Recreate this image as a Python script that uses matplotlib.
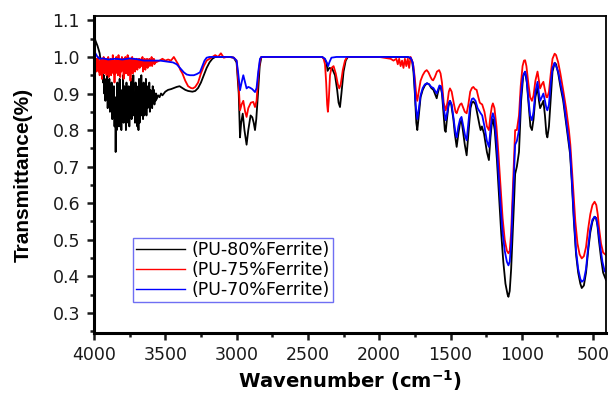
#!/usr/bin/env python3
"""FTIR transmittance spectra of PU / ferrite composites."""

import matplotlib
matplotlib.use("Agg")
import matplotlib.pyplot as plt
from matplotlib.ticker import MultipleLocator

plt.rcParams["font.family"] = ["DejaVu Sans"]
plt.rcParams["mathtext.fontset"] = "dejavusans"

# ── PU-80% ferrite ──
# O-H / N-H band is very noisy, sampled every 4 cm-1
wn_80_oh = list(range(3940, 3556, -4))
t_80_oh = [0.96, 0.93, 0.95, 0.90, 0.94, 0.88, 0.93, 0.91, 0.95, 0.86, 0.92, 0.89,
           0.94, 0.85, 0.91, 0.88, 0.93, 0.83, 0.90, 0.86, 0.92, 0.81, 0.89, 0.74,
           0.88, 0.80, 0.93, 0.83, 0.90, 0.81, 0.94, 0.84, 0.91, 0.80, 0.89, 0.83,
           0.95, 0.82, 0.92, 0.85, 0.90, 0.80, 0.93, 0.84, 0.88, 0.82, 0.92, 0.81,
           0.89, 0.85, 0.94, 0.83, 0.91, 0.86, 0.95, 0.84, 0.90, 0.82, 0.93, 0.85,
           0.92, 0.81, 0.90, 0.80, 0.94, 0.82, 0.91, 0.86, 0.95, 0.84, 0.90, 0.83,
           0.93, 0.84, 0.91, 0.87, 0.94, 0.84, 0.92, 0.86, 0.90, 0.88, 0.93, 0.85,
           0.91, 0.87, 0.90, 0.86, 0.92, 0.88, 0.91, 0.87, 0.90, 0.88, 0.90, 0.885]
wn_80 = [4000, 3990, 3975, 3960, 3950] + wn_80_oh + [
         3550, 3540, 3530, 3520, 3500, 3480, 3460, 3440, 3420, 3400, 3380, 3360,
         3340, 3310, 3290, 3270, 3250, 3230, 3210, 3190, 3170, 3150, 3100, 3050,
         3020, 3000, 2985, 2976, 2968, 2957, 2945, 2930, 2918, 2902, 2890, 2880,
         2871, 2862, 2850, 2838, 2826, 2600, 2400, 2385, 2370, 2362, 2350, 2330,
         2310, 2295, 2285, 2275, 2265, 2250, 2235, 2220, 2000, 1800, 1790, 1770,
         1760, 1750, 1740, 1733, 1725, 1710, 1695, 1680, 1665, 1650, 1635, 1620,
         1605, 1597, 1590, 1580, 1570, 1560, 1550, 1540, 1534, 1525, 1515, 1504,
         1495, 1480, 1470, 1457, 1445, 1433, 1423, 1410, 1400, 1387, 1375, 1360,
         1350, 1340, 1325, 1310, 1295, 1289, 1280, 1265, 1245, 1231, 1220, 1210,
         1203, 1190, 1175, 1160, 1145, 1130, 1115, 1100, 1094, 1085, 1075, 1065,
         1055, 1047, 1035, 1020, 1005, 990, 977, 965, 950, 940, 929, 918,
         905, 890, 880, 872, 860, 849, 838, 828, 821, 810, 797, 785,
         770, 760, 745, 730, 710, 690, 670, 662, 650, 635, 620, 605,
         590, 580, 565, 550, 535, 520, 505, 490, 480, 470, 460, 445,
         430, 410]
t_80 = [1.06, 1.045, 1.03, 1.01, 0.98] + t_80_oh + [
        0.895, 0.89, 0.90, 0.895, 0.905, 0.91, 0.912, 0.915, 0.918, 0.92, 0.915, 0.91,
        0.907, 0.905, 0.907, 0.915, 0.93, 0.95, 0.97, 0.985, 0.995, 1.0, 1.0, 1.0,
        0.998, 0.985, 0.90, 0.78, 0.82, 0.845, 0.80, 0.76, 0.80, 0.84, 0.835, 0.82,
        0.80, 0.83, 0.90, 0.975, 1.0, 1.0, 1.0, 0.995, 0.985, 0.962, 0.97, 0.968,
        0.95, 0.91, 0.875, 0.863, 0.90, 0.96, 0.99, 1.0, 1.0, 1.0, 0.998, 0.99,
        0.96, 0.90, 0.82, 0.80, 0.83, 0.89, 0.91, 0.922, 0.928, 0.925, 0.915, 0.91,
        0.895, 0.887, 0.90, 0.915, 0.92, 0.90, 0.85, 0.80, 0.795, 0.83, 0.865, 0.88,
        0.87, 0.83, 0.79, 0.754, 0.79, 0.82, 0.827, 0.79, 0.76, 0.731, 0.79, 0.86,
        0.875, 0.878, 0.87, 0.84, 0.81, 0.80, 0.81, 0.79, 0.74, 0.718, 0.78, 0.82,
        0.83, 0.80, 0.72, 0.62, 0.52, 0.44, 0.38, 0.35, 0.344, 0.36, 0.42, 0.51,
        0.60, 0.68, 0.70, 0.74, 0.88, 0.95, 0.958, 0.93, 0.86, 0.81, 0.80, 0.83,
        0.89, 0.918, 0.88, 0.86, 0.87, 0.88, 0.84, 0.79, 0.78, 0.81, 0.89, 0.96,
        0.984, 0.98, 0.955, 0.92, 0.88, 0.82, 0.76, 0.735, 0.66, 0.55, 0.46, 0.41,
        0.38, 0.368, 0.375, 0.41, 0.47, 0.52, 0.55, 0.563, 0.56, 0.54, 0.50, 0.45,
        0.41, 0.39]

# ── PU-75% ferrite ──
wn_75_oh = list(range(3996, 3564, -4))
t_75_oh = [1.00, 0.97, 0.99, 0.96, 0.995, 0.975, 1.00, 0.96, 0.985, 0.95, 0.99, 0.965,
           0.995, 0.94, 0.99, 0.97, 1.00, 0.955, 0.985, 0.965, 0.995, 0.95, 0.99, 0.97,
           1.00, 0.945, 0.985, 0.96, 0.995, 0.95, 0.99, 0.965, 1.005, 0.955, 0.99, 0.93,
           0.985, 0.955, 1.00, 0.96, 0.99, 0.95, 1.005, 0.97, 0.995, 0.945, 0.99, 0.96,
           1.00, 0.965, 0.995, 0.94, 0.985, 0.96, 1.00, 0.955, 0.99, 0.97, 1.005, 0.95,
           0.99, 0.96, 0.995, 0.935, 0.985, 0.965, 1.00, 0.955, 0.99, 0.97, 0.995, 0.96,
           0.985, 0.97, 0.995, 0.965, 0.99, 0.975, 0.995, 0.97, 0.99, 0.98, 0.995, 0.975,
           1.00, 0.96, 0.99, 0.975, 0.995, 0.965, 0.99, 0.98, 0.995, 0.97, 0.99, 0.98,
           0.995, 0.975, 0.99, 0.985, 1.00, 0.975, 0.99, 0.985, 0.995, 0.98, 0.99, 0.985]
wn_75 = [4000] + wn_75_oh + [
         3540, 3520, 3500, 3480, 3460, 3440, 3425, 3410, 3395, 3380, 3360, 3340,
         3320, 3306, 3290, 3270, 3250, 3230, 3210, 3190, 3170, 3150, 3130, 3110,
         3090, 3070, 3050, 3020, 3000, 2985, 2976, 2965, 2953, 2940, 2930, 2918,
         2900, 2883, 2871, 2860, 2848, 2836, 2826, 2600, 2400, 2390, 2380, 2372,
         2365, 2360, 2354, 2345, 2335, 2320, 2305, 2290, 2280, 2270, 2255, 2240,
         2225, 2000, 1920, 1900, 1880, 1870, 1860, 1850, 1840, 1830, 1820, 1810,
         1800, 1790, 1780, 1770, 1760, 1750, 1740, 1733, 1725, 1710, 1695, 1680,
         1667, 1655, 1640, 1630, 1622, 1610, 1595, 1580, 1570, 1560, 1548, 1534,
         1522, 1512, 1504, 1492, 1478, 1465, 1457, 1445, 1433, 1423, 1410, 1400,
         1387, 1375, 1362, 1350, 1340, 1328, 1317, 1305, 1295, 1289, 1278, 1262,
         1245, 1231, 1220, 1210, 1203, 1192, 1178, 1165, 1150, 1135, 1120, 1105,
         1094, 1085, 1075, 1065, 1055, 1047, 1035, 1020, 1008, 995, 985, 977,
         968, 955, 942, 929, 918, 905, 890, 880, 872, 860, 849, 838,
         828, 821, 810, 797, 785, 770, 760, 745, 730, 710, 690, 670,
         660, 650, 640, 625, 610, 595, 580, 565, 550, 535, 520, 505,
         490, 478, 468, 458, 445, 430, 410]
t_75 = [0.98] + t_75_oh + [
        0.99, 0.995, 0.99, 0.993, 0.99, 1.0, 0.99, 0.98, 0.965, 0.955, 0.935, 0.92,
        0.915, 0.914, 0.918, 0.93, 0.955, 0.975, 0.99, 0.995, 1.0, 1.005, 1.0, 1.01,
        0.998, 1.0, 1.0, 0.998, 0.99, 0.92, 0.854, 0.87, 0.88, 0.85, 0.836, 0.86,
        0.875, 0.877, 0.863, 0.88, 0.95, 0.99, 1.0, 1.0, 1.0, 0.995, 0.98, 0.93,
        0.87, 0.85, 0.88, 0.95, 0.97, 0.975, 0.955, 0.925, 0.914, 0.925, 0.965, 0.99,
        1.0, 1.0, 0.995, 0.99, 0.995, 0.98, 0.995, 0.975, 0.99, 0.97, 0.995, 0.975,
        0.995, 0.97, 1.0, 0.99, 0.975, 0.94, 0.895, 0.88, 0.90, 0.935, 0.95, 0.96,
        0.964, 0.958, 0.945, 0.938, 0.936, 0.945, 0.96, 0.964, 0.955, 0.93, 0.875, 0.854,
        0.875, 0.905, 0.914, 0.905, 0.875, 0.85, 0.846, 0.86, 0.87, 0.873, 0.86, 0.85,
        0.846, 0.87, 0.905, 0.915, 0.918, 0.912, 0.91, 0.89, 0.875, 0.873, 0.87, 0.85,
        0.81, 0.80, 0.84, 0.865, 0.873, 0.86, 0.81, 0.74, 0.65, 0.56, 0.50, 0.47,
        0.463, 0.47, 0.52, 0.62, 0.72, 0.80, 0.80, 0.84, 0.92, 0.975, 0.99, 0.991,
        0.975, 0.93, 0.89, 0.88, 0.895, 0.935, 0.96, 0.935, 0.914, 0.925, 0.932, 0.91,
        0.89, 0.89, 0.905, 0.955, 0.995, 1.009, 1.005, 0.985, 0.955, 0.909, 0.86, 0.80,
        0.76, 0.70, 0.64, 0.55, 0.49, 0.46, 0.449, 0.455, 0.48, 0.53, 0.57, 0.595,
        0.604, 0.595, 0.57, 0.53, 0.49, 0.465, 0.458]

# ── PU-70% ferrite ──
wn_70 = [4000, 3990, 3975, 3960, 3937, 3900, 3850, 3800, 3750, 3700, 3650, 3600,
         3537, 3480, 3446, 3420, 3397, 3370, 3350, 3327, 3300, 3280, 3257, 3240,
         3225, 3210, 3190, 3100, 3040, 3020, 3000, 2990, 2976, 2965, 2953, 2940,
         2930, 2918, 2906, 2890, 2871, 2860, 2848, 2836, 2826, 2600, 2400, 2380,
         2365, 2358, 2350, 2335, 2300, 2000, 1800, 1780, 1765, 1755, 1745, 1733,
         1725, 1710, 1695, 1680, 1665, 1650, 1635, 1620, 1605, 1597, 1588, 1578,
         1568, 1558, 1548, 1534, 1522, 1512, 1504, 1492, 1478, 1465, 1457, 1445,
         1433, 1423, 1410, 1398, 1387, 1375, 1362, 1350, 1340, 1325, 1310, 1295,
         1289, 1278, 1262, 1245, 1231, 1220, 1210, 1203, 1192, 1178, 1165, 1150,
         1135, 1120, 1105, 1094, 1085, 1075, 1065, 1055, 1047, 1035, 1020, 1008,
         995, 985, 977, 968, 955, 942, 929, 918, 905, 890, 880, 872,
         860, 849, 838, 828, 821, 810, 797, 785, 770, 745, 730, 710,
         690, 670, 662, 650, 635, 620, 605, 590, 580, 565, 550, 535,
         520, 505, 490, 478, 465, 450, 435, 420, 410]
t_70 = [1.018, 1.01, 1.0, 0.995, 0.996, 0.993, 0.995, 0.993, 0.996, 0.994, 0.99, 0.99,
        0.99, 0.987, 0.985, 0.98, 0.97, 0.958, 0.952, 0.95, 0.95, 0.953, 0.958, 0.975,
        0.99, 0.998, 1.0, 1.0, 1.0, 0.998, 0.99, 0.96, 0.909, 0.93, 0.95, 0.93,
        0.914, 0.918, 0.916, 0.912, 0.904, 0.915, 0.96, 0.995, 1.0, 1.0, 1.0, 0.995,
        0.982, 0.975, 0.985, 0.998, 1.0, 1.0, 1.0, 0.998, 0.985, 0.95, 0.87, 0.83,
        0.85, 0.895, 0.915, 0.925, 0.928, 0.925, 0.918, 0.915, 0.905, 0.90, 0.91, 0.922,
        0.92, 0.90, 0.86, 0.827, 0.85, 0.875, 0.88, 0.87, 0.83, 0.79, 0.78, 0.81,
        0.83, 0.836, 0.81, 0.785, 0.772, 0.82, 0.87, 0.885, 0.887, 0.88, 0.86, 0.85,
        0.846, 0.84, 0.81, 0.77, 0.754, 0.80, 0.835, 0.846, 0.83, 0.77, 0.69, 0.60,
        0.52, 0.47, 0.44, 0.43, 0.44, 0.49, 0.59, 0.68, 0.76, 0.77, 0.80, 0.89,
        0.94, 0.955, 0.96, 0.945, 0.89, 0.84, 0.827, 0.85, 0.905, 0.932, 0.90, 0.88,
        0.89, 0.90, 0.88, 0.86, 0.854, 0.87, 0.93, 0.97, 0.984, 0.96, 0.93, 0.89,
        0.83, 0.77, 0.745, 0.67, 0.56, 0.47, 0.42, 0.393, 0.385, 0.39, 0.42, 0.48,
        0.53, 0.555, 0.563, 0.558, 0.53, 0.48, 0.44, 0.415, 0.41]

labels = ["(PU-80%Ferrite)", "(PU-75%Ferrite)", "(PU-70%Ferrite)"]
colors = ["#000000", "#ff0000", "#0000ff"]

fig = plt.figure(figsize=(6.11, 3.99), dpi=100)
ax = fig.add_axes([0.1538, 0.1654, 0.838, 0.7945])

for wn, t, lab, c in zip([wn_80, wn_75, wn_70], [t_80, t_75, t_70], labels, colors):
    ax.plot(wn, t, color=c, lw=1.3, label=lab)

ax.set_xlim(4000, 410)
ax.set_ylim(0.245, 1.112)
ax.xaxis.set_major_locator(MultipleLocator(500))
ax.xaxis.set_minor_locator(MultipleLocator(250))
ax.yaxis.set_major_locator(MultipleLocator(0.1))
ax.yaxis.set_minor_locator(MultipleLocator(0.05))
ax.yaxis.set_major_formatter(plt.FuncFormatter(lambda v, p: f"{v:.1f}"))

ax.tick_params(which="both", direction="out", top=False, right=False, labelsize=12.5,
               width=1.8, colors="#1a1a1a")
ax.tick_params(which="major", length=5)
ax.tick_params(which="minor", length=3)
ax.tick_params(axis="x", pad=4)
ax.tick_params(axis="y", pad=5)
for side in ["left", "bottom"]:
    ax.spines[side].set_linewidth(2.2)
for side in ["top", "right"]:
    ax.spines[side].set_linewidth(1.3)

# narrow bold face for the rotated label, wide face for the horizontal one
ax.set_ylabel("Transmittance(%)", fontsize=15, fontweight="bold", labelpad=14,
              family=["Liberation Sans Narrow", "Liberation Sans", "DejaVu Sans"])
ax.set_xlabel(r"Wavenumber (cm$^{\mathbf{-1}}$)", fontsize=14, fontweight="bold",
              labelpad=3)

leg = ax.legend(loc="upper left", bbox_to_anchor=(0.076, 0.30), fontsize=12.5,
                frameon=True, fancybox=False, borderaxespad=0, handlelength=2.8,
                borderpad=0.2, labelspacing=0.1, handletextpad=0.35)
leg.get_frame().set_edgecolor("#4b4bf0")
leg.get_frame().set_linewidth(1.0)
for line in leg.get_lines():
    line.set_linewidth(1.0)

fig.savefig("out.png", dpi=100)
